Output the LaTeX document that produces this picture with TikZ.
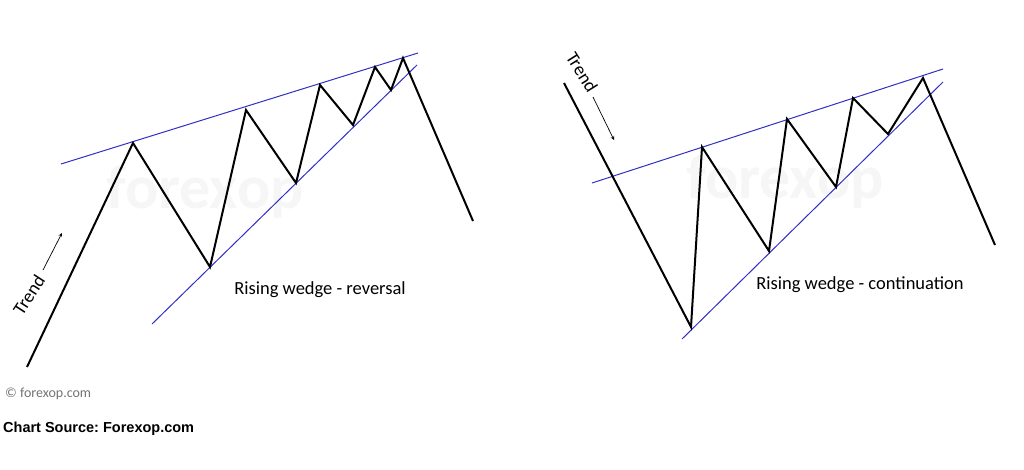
\documentclass[tikz,border=0pt]{standalone}
\usepackage{fontspec}
\setmainfont{Carlito}
\newfontfamily\arialfont{Liberation Sans}
\usepackage{tikz}
\usetikzlibrary{arrows,calc,positioning}
\tikzstyle{price} = [line width=2pt, line join=miter, black]
\tikzstyle{bound} = [line width=1pt, color=wedgeblue]
\tikzstyle{arrow} = [line width=0.7pt, ->, >=stealth]
\definecolor{wedgeblue}{RGB}{48,48,196}
\definecolor{marklight}{RGB}{246,246,246}
\frenchspacing

\begin{document}
\begin{tikzpicture}[x=1pt,y=-1pt]
\tikzset{label/.style={font=\fontsize{18.5}{20}\selectfont, inner sep=0pt},
  watermark/.style={font=\fontsize{62}{64}\selectfont\bfseries, text=marklight, inner sep=0pt}}
\useasboundingbox (0,0) rectangle (1024,469);

% watermarks
\node[watermark] (wmL) at (205,192) {forexop};
\node[watermark] (wmR) at (785,182) {forexop};

% left chart: reversal
\foreach \n/\x/\y in {0/27/367, 1/133/143, 2/210/267, 3/246/110, 4/296/183, 5/320/85,
  6/353/125, 7/375/67, 8/391/90, 9/403/58, 10/473/221} {
\coordinate (L\n) at (\x,\y); }
\coordinate (LtopA) at (61,164);
\coordinate (LtopB) at (418,53);
\coordinate (LbotA) at (152,324);
\coordinate (LbotB) at (417,65);
\draw[bound] (LtopA) -- (LtopB);
\draw[bound] (LbotA) -- (LbotB);
\draw[price] (L0) \foreach \n in {1,...,10} { -- (L\n) };

\node[label, rotate=57] (trendL) at (29,295) {Trend};
\coordinate (LarrA) at (43,270);
\coordinate (LarrB) at (62,233);
\draw[arrow] (LarrA) -- (LarrB);
\node[label] (nameL) at (320,290) {Rising wedge - reversal};

% right chart: continuation
\foreach \n/\x/\y in {0/564/83, 1/691/327, 2/702/147, 3/769/251, 4/787/119, 5/836/187,
  6/853/98, 7/888/134, 8/923/78, 9/995/245} {
\coordinate (R\n) at (\x,\y); }
\coordinate (RtopA) at (592,183);
\coordinate (RtopB) at (943,69);
\coordinate (RbotA) at (682,339);
\coordinate (RbotB) at (943,82);
\draw[bound] (RtopA) -- (RtopB);
\draw[bound] (RbotA) -- (RbotB);
\draw[price] (R0) \foreach \n in {1,...,9} { -- (R\n) };

\node[label, rotate=-58] (trendR) at (582,72) {Trend};
\coordinate (RarrA) at (593,97);
\coordinate (RarrB) at (614,140);
\draw[arrow] (RarrA) -- (RarrB);
\node[label] (nameR) at (860,285) {Rising wedge - continuation};

% footer
\node[font=\fontsize{14}{16}\selectfont, text=black!55, anchor=west, inner sep=0pt] (copy) at (5,394) {© forexop.com};
\node[font=\arialfont\bfseries\fontsize{14.5}{16}\selectfont, anchor=west, inner sep=0pt] (source) at (3,429) {Chart Source: Forexop.com};
\end{tikzpicture}
\end{document}
